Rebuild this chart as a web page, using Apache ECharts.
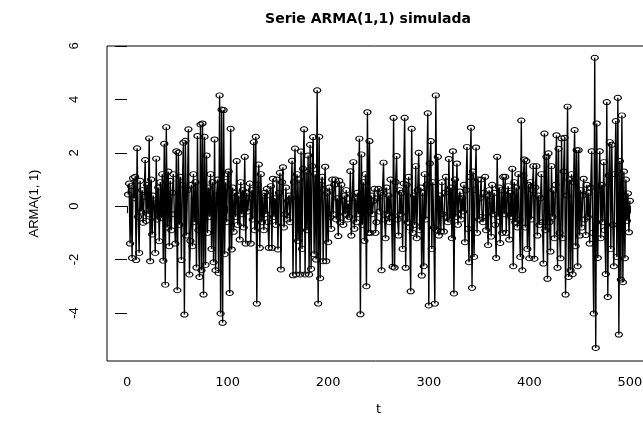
<!DOCTYPE html>
<html><head><meta charset="utf-8">
<script src="https://cdn.jsdelivr.net/npm/echarts@6/dist/echarts.min.js"></script>
<style>html,body{margin:0;padding:0;background:#fff}#c{width:643px;height:421px}</style>
</head><body><div id="c"></div>
<script>
const values = [
0.44,0.85,-1.40,0.75,-1.94,1.05,0.30,1.10,-2.02,2.17,
-0.40,-1.75,0.95,-0.20,0.60,-0.62,0.35,1.73,-0.55,0.80,
-0.30,2.54,-2.06,1.00,-1.06,0.40,0.10,-1.75,1.78,-0.50,
0.70,-1.31,0.90,-0.45,1.20,-2.04,2.34,-2.94,2.96,-0.80,
1.30,-1.50,0.95,-0.90,0.50,1.20,-0.30,-1.40,2.06,-3.15,
2.00,-0.70,1.10,-2.02,0.80,2.38,-4.06,2.45,-1.10,0.60,
2.88,-2.56,-1.30,0.80,-1.50,1.20,-0.60,0.90,-2.30,2.63,
-0.90,-2.65,3.06,-2.40,3.10,-3.31,2.60,-2.20,1.90,-1.00,
0.70,-0.40,1.20,-1.60,0.90,-2.10,2.50,-2.40,0.40,1.00,
-2.50,4.15,-4.02,3.62,-4.37,3.60,-1.80,0.90,-0.60,1.20,
1.30,-3.25,2.90,-1.62,0.70,-0.96,0.50,-0.40,1.69,-0.70,
0.40,-1.25,0.90,-0.30,0.60,-0.80,1.85,-1.40,0.50,-0.20,
0.30,0.85,-1.40,0.60,-0.50,2.40,-0.90,2.60,-3.65,0.80,
1.56,-1.56,1.20,-0.60,0.40,-0.90,0.50,-0.30,0.65,-0.60,
-1.56,0.40,0.75,-1.56,1.03,-0.40,0.30,-0.70,1.00,-1.62,
0.50,1.25,-2.37,0.90,1.46,-0.80,-0.30,0.70,-0.50,0.20,
0.40,-0.60,0.30,1.70,-2.59,0.90,2.16,-2.56,1.20,-1.30,
1.00,-2.56,2.05,-1.60,1.40,2.88,-2.56,1.30,-0.90,1.90,
-2.56,2.30,-2.35,1.50,2.59,-1.80,1.20,-2.00,4.34,-3.65,
2.60,-2.70,0.80,1.10,-2.06,0.60,1.48,-2.06,0.50,-1.35,
0.70,-0.40,-0.85,1.00,-0.30,0.80,1.00,-0.50,0.30,-1.12,
0.95,-0.60,0.80,0.20,-0.70,0.40,-0.30,0.60,-0.50,0.10,
-0.40,1.31,-1.10,0.40,1.65,-0.85,0.30,-0.60,0.50,-0.30,
2.53,-4.05,1.94,-0.70,0.90,-1.30,1.20,-3.00,3.52,-1.00,
2.44,-1.00,0.40,-0.30,0.20,0.65,-1.00,-0.60,0.30,0.65,
-0.20,0.50,-2.40,0.60,1.63,-0.50,-1.20,0.70,-0.30,0.40,
-0.60,1.00,-0.40,-2.27,3.31,-2.30,0.90,1.88,-0.50,-1.10,
0.60,-0.30,0.50,-1.60,0.85,3.31,-2.31,0.80,-0.60,1.10,
-0.80,-3.19,2.90,-1.00,0.40,-0.70,1.50,-1.20,0.60,2.00,
-0.90,0.70,-2.60,0.50,-2.25,1.20,-0.50,0.80,3.48,-3.72,
1.60,2.44,-1.60,0.90,-0.80,-3.65,4.15,-0.90,1.85,-1.10,
0.40,-0.95,0.90,-0.30,-0.95,0.50,1.10,-0.40,-0.60,1.77,
-0.50,0.70,-1.20,2.06,-3.27,1.00,-0.40,1.60,-0.70,0.30,
0.55,-0.50,0.30,-0.20,0.80,-1.35,0.60,2.22,-0.85,-2.10,
1.10,2.94,-3.06,1.30,-1.90,0.60,2.20,-1.00,1.00,-0.50,
0.30,1.00,-0.40,-0.60,0.50,1.10,-0.90,0.40,-1.46,0.60,
0.20,-1.14,0.80,-0.30,0.50,-0.70,-1.94,1.85,-0.40,0.70,
-1.38,0.60,-1.00,1.10,-0.30,1.10,-1.00,0.40,0.75,-1.25,
0.50,-0.40,1.40,-2.25,0.90,-0.60,0.70,-0.80,1.20,-0.50,
-1.90,3.21,-2.40,1.15,1.75,-0.80,1.69,-1.60,0.80,-1.95,
0.90,-0.50,0.60,1.50,-1.97,0.70,1.50,-1.10,0.40,-0.70,
0.30,1.20,-0.60,-2.15,2.72,-0.90,1.85,-2.72,1.98,-0.60,
-1.70,1.50,-0.40,0.60,-1.20,0.80,2.66,-2.31,2.15,-1.00,
-1.95,2.54,-1.20,1.30,2.56,-3.31,0.40,3.73,-2.65,1.00,
-2.40,1.20,-2.55,0.90,2.85,-1.50,2.10,-2.25,2.10,-1.10,
0.60,-0.80,0.40,1.03,-0.50,-1.08,0.80,-0.40,0.50,-1.40,
0.70,2.06,-1.00,-4.02,5.56,-5.31,3.10,-1.94,0.60,2.06,
-1.20,0.80,-0.60,1.65,-0.90,-2.54,3.90,-3.40,1.15,2.40,
-1.60,2.30,-0.70,-2.25,1.20,3.19,-1.90,4.06,-4.81,1.69,
-2.75,3.40,-2.85,1.30,-1.95,1.00,-0.55,0.48,-0.98,0.20
];
const xTicks = [0, 100, 200, 300, 400, 500];
const yTicks = [-4, -2, 0, 2, 4, 6];
const titleText = 'Serie ARMA(1,1) simulada';
const xName = 't';
const yName = 'ARMA(1, 1)';

const points = values.map((v, i) => [i + 1, v]);

const gridLeft = 107, gridTop = 46, gridWidth = 543, gridHeight = 315;
const titleFont = 'bold 14px "DejaVu Sans"';
const mctx = document.createElement('canvas').getContext('2d');
mctx.font = titleFont;
const titleW = mctx.measureText(titleText).width;
const plotCenter = 368;

const chart = echarts.init(document.getElementById('c'), null, {renderer: 'canvas'});
chart.setOption({
  animation: false,
  backgroundColor: '#ffffff',
  title: {
    text: titleText, left: plotCenter - titleW / 2, top: 12, padding: 0,
    textStyle: {fontFamily: 'DejaVu Sans', fontWeight: 'bold', fontSize: 14, color: '#000'}
  },
  grid: {left: gridLeft, top: gridTop, width: gridWidth, height: gridHeight, show: true,
         borderColor: '#000', borderWidth: 1, backgroundColor: 'transparent',
         containLabel: false, outerBoundsMode: 'none'},
  xAxis: {
    type: 'value', min: -19.96, max: 519.96,
    axisLine: {show: false}, splitLine: {show: false},
    axisTick: {show: true, length: 7, customValues: xTicks, lineStyle: {color: '#000', width: 1}},
    axisLabel: {customValues: xTicks, margin: 15, fontFamily: 'DejaVu Sans', fontSize: 13, color: '#000'},
    name: xName, nameLocation: 'middle', nameGap: 42,
    nameTextStyle: {fontFamily: 'DejaVu Sans', fontSize: 13, color: '#000'}
  },
  yAxis: {
    type: 'value', min: -5.8, max: 6.0,
    axisLine: {show: false}, splitLine: {show: false},
    axisTick: {show: true, length: 12, customValues: yTicks, lineStyle: {color: '#000', width: 1}},
    axisLabel: {customValues: yTicks, rotate: 90, margin: 26, fontFamily: 'Liberation Sans', fontSize: 13, color: '#000'},
    name: yName, nameLocation: 'middle', nameGap: 66,
    nameTextStyle: {fontFamily: 'Liberation Sans', fontSize: 13, color: '#000'}
  },
  series: [{
    type: 'line', data: points, symbol: 'circle', symbolSize: [7, 5], showAllSymbol: true,
    itemStyle: {color: 'rgba(0,0,0,0)', borderColor: '#000', borderWidth: 1.1},
    lineStyle: {color: '#000', width: 1.4}, emphasis: {disabled: true}, silent: true
  }]
});
</script></body></html>
